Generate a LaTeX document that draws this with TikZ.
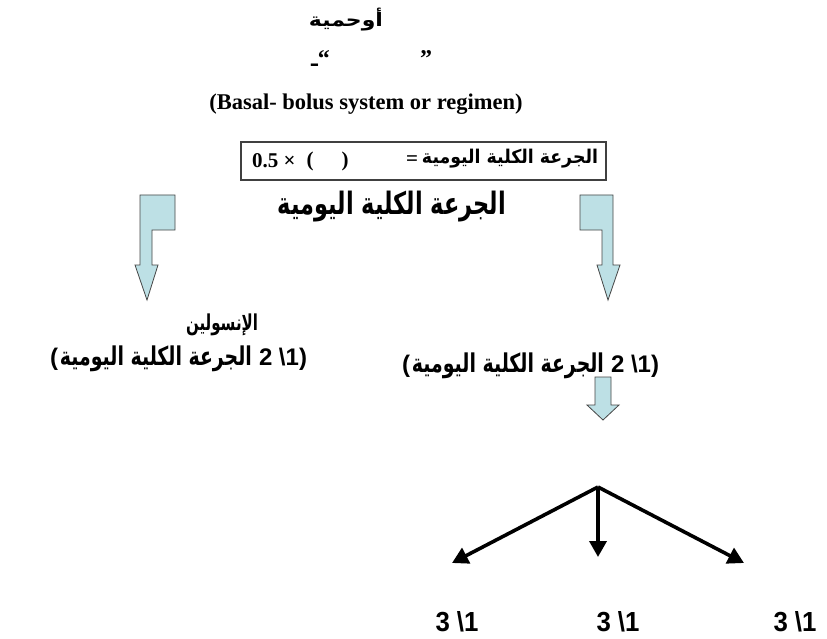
\documentclass[tikz,border=0pt]{standalone}
\usepackage{graphicx}
\usepackage{fontspec}
\setmainfont{Liberation Serif}
\newfontfamily\arabicfont[Script=Arabic]{DejaVu Sans}
\newfontfamily\arialfont{Liberation Sans}
\usetikzlibrary{arrows.meta}
\TeXXeTstate=1
\definecolor{arrowfill}{RGB}{189,224,229}
\definecolor{arrowline}{RGB}{70,70,70}
\newcommand{\arb}[1]{{\arabicfont\bfseries\beginR #1\endR}}
\newcommand{\fitwh}[3]{\resizebox*{#1}{#2}{#3}}
\begin{document}
\begin{tikzpicture}[x=1pt,y=-1pt,
  blockarrow/.style={fill=arrowfill, draw=arrowline, line width=0.8pt, line join=miter},
  bigline/.style={line width=3.6pt, -{Triangle[length=16pt,width=17pt]}},
  txt/.style={inner sep=0pt, outer sep=0pt},
  latinpart/.style={txt, font=\fontsize{24}{24}\selectfont\arialfont\bfseries}]
\useasboundingbox (0,0) rectangle (827,639);
\fill[white] (0,0) rectangle (827,639);

% title
\node[txt] (title) at (346,20) {\fitwh{74pt}{23pt}{\arb{أوحمية}}};
\node[txt,anchor=base west] (q1) at (311,67) {{\fontsize{20}{20}\selectfont\arabicfont\bfseries ـ}{\fontsize{24}{24}\selectfont\bfseries “}};
\node[txt,anchor=base west] (q2) at (420,67) {\fontsize{24}{24}\selectfont\bfseries ”};
\node[txt] (basal) at (366,104) {\fontsize{22.5}{24}\selectfont\bfseries (Basal- bolus system or regimen)};

% formula box
\node[txt,draw=black!75,line width=1.4pt,minimum width=365pt,minimum height=38pt] (box) at (423.5,161) {};
\node[txt,anchor=west] (half) at (252,161) {\fontsize{21}{21}\selectfont\bfseries 0.5 ×};
\node[txt] (lp) at (310,161) {\fontsize{21}{21}\selectfont\bfseries (};
\node[txt] (rp) at (345,161) {\fontsize{21}{21}\selectfont\bfseries )};
\node[txt] (eq) at (412,161) {\fontsize{21}{21}\selectfont\bfseries =};
\node[txt,anchor=east] (boxar) at (598,159) {\fitwh{176pt}{19pt}{\arb{الجرعة الكلية اليومية}}};

% big heading
\node[txt] (big) at (392,207) {\fitwh{228pt}{31pt}{\arb{الجرعة الكلية اليومية}}};

% block arrows
\draw[blockarrow] (140,195) -- (175,195) -- (175,230) -- (152,230) -- (152,265) -- (158,265) -- (147,300) -- (135,265) -- (140,265) -- cycle;
\draw[blockarrow] (580,195) -- (613,195) -- (613,265) -- (620,265) -- (608,300) -- (597,265) -- (602,265) -- (602,230) -- (580,230) -- cycle;

% left branch
\node[txt] (insulin) at (222,325) {\fitwh{72pt}{22pt}{\arb{الإنسولين}}};
\node[latinpart,anchor=base west] (lA) at (50,365) {(};
\node[txt,anchor=base west] (lB) at ([xshift=2pt]lA.base east) {\fitwh{192pt}{26pt}{\arb{الجرعة الكلية اليومية}}};
\node[latinpart,anchor=base west] (lC) at ([xshift=7pt]lB.base east) {2 \textbackslash1)};

% right branch
\node[latinpart,anchor=base west] (rA) at (402,372) {(};
\node[txt,anchor=base west] (rB) at ([xshift=2pt]rA.base east) {\fitwh{192pt}{26pt}{\arb{الجرعة الكلية اليومية}}};
\node[latinpart,anchor=base west] (rC) at ([xshift=7pt]rB.base east) {2 \textbackslash1)};
\draw[blockarrow] (595,377) -- (611,377) -- (611,405) -- (619,405) -- (603,420) -- (587,405) -- (595,405) -- cycle;

% split arrows
\coordinate (apex) at (598,487);
\coordinate (tl) at (452,563);
\coordinate (tm) at (598,557);
\coordinate (tr) at (744,563);
\draw[bigline] (apex) -- (tl);
\draw[bigline] (apex) -- (tm);
\draw[bigline] (apex) -- (tr);

% thirds
\node[txt] (th1) at (457,622) {\resizebox{43pt}{20pt}{\arialfont\bfseries 3 \textbackslash 1}};
\node[txt] (th2) at (618,622) {\resizebox{43pt}{20pt}{\arialfont\bfseries 3 \textbackslash 1}};
\node[txt] (th3) at (795,622) {\resizebox{43pt}{20pt}{\arialfont\bfseries 3 \textbackslash 1}};
\end{tikzpicture}
\end{document}
